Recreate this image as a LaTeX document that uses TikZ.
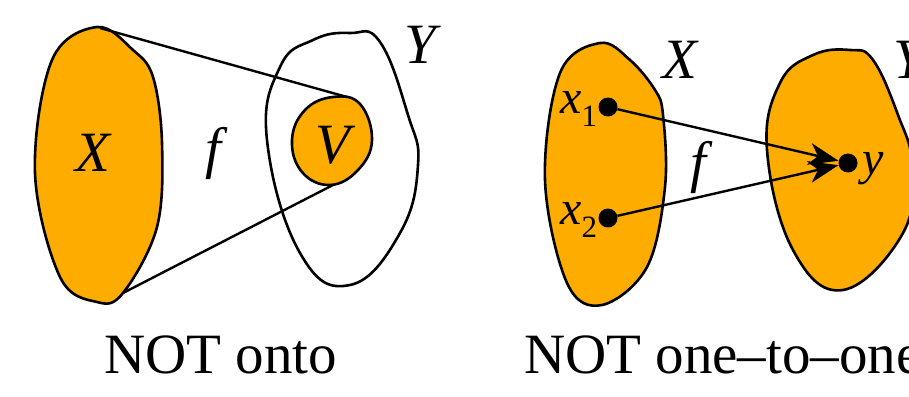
\documentclass[tikz,border=0pt]{standalone}
\usepackage{fontspec}
\setmainfont{Liberation Serif}
\usepackage{xcolor}
\usetikzlibrary{arrows.meta, positioning}

\definecolor{setorange}{RGB}{255,172,0}

\begin{document}
\begin{tikzpicture}[x=1pt, y=-1pt]
    % Styles
    \tikzstyle{blob} = [draw, line width=2.6pt, fill=setorange]
    \tikzstyle{hollow} = [draw, line width=2.6pt]
    \tikzstyle{lbl} = [inner sep=0pt, font=\fontsize{57}{60}\selectfont\itshape]
    \tikzstyle{small} = [inner sep=0pt, font=\fontsize{48}{50}\selectfont\itshape]
    \tikzstyle{caption} = [inner sep=0pt, font=\fontsize{57}{60}\selectfont]
    \tikzstyle{dot} = [circle, fill=black, inner sep=0pt, minimum size=19pt]
    \tikzstyle{line} = [draw, line width=2.4pt]
    \tikzstyle{arrow} = [draw, line width=2.4pt, -{Stealth[length=30pt, width=22pt, inset=9pt]}]

    \useasboundingbox (0,0) rectangle (909,396);
    \clip (0,0) rectangle (909,396);

    % NOT onto
    \draw[blob] plot[smooth cycle, tension=0.6] coordinates
        {(97,27) (133,50) (153,77) (162,143) (157,227) (123,293) (97,302) (60,277) (35,173) (52,60)};
    \draw[hollow] plot[smooth cycle, tension=0.75] coordinates
        {(350,33) (380,42) (408,115) (418,165) (400,233) (350,285) (300,253) (267,140) (280,67) (313,40)};
    \draw[blob] plot[smooth cycle, tension=0.7] coordinates
        {(333,97) (360,104) (372,140) (358,170) (330,185) (302,172) (292,140) (305,110)};

    \coordinate (xtop) at (100,28);
    \coordinate (xbot) at (123,293);
    \coordinate (vtop) at (347,97);
    \coordinate (vbot) at (333,185);
    \path [line] (xtop) -- (vtop);
    \path [line] (xbot) -- (vbot);

    \node [lbl] (setX) at (93,153) {X};
    \node [lbl] (mapf) at (213,153) {f};
    \node [lbl] (setV) at (333,145) {V};
    \node [lbl] (setY) at (420,45) {Y};
    \node [caption, anchor=base west] (onto) at (104,373) {NOT onto};

    % NOT one-to-one
    \draw[blob] plot[smooth cycle, tension=0.6] coordinates
        {(600,43) (630,60) (655,90) (663,115) (665,187) (647,267) (602,305) (567,283) (545,180) (560,73)};
    \draw[blob] plot[smooth cycle, tension=0.7] coordinates
        {(850,50) (873,60) (898,115) (912,165) (903,233) (843,290) (793,250) (767,150) (780,83) (813,55)};

    \node [dot] (x1) at (608,107) {};
    \node [dot] (x2) at (608,218) {};
    \node [dot] (y) at (848,163) {};
    \path [arrow] (x1) -- (y);
    \path [arrow] (x2) -- (y);

    \node [small, left=1pt of x1, yshift=-2pt] (labx1) {x\raisebox{-0.28em}{\fontsize{31}{31}\selectfont\upshape 1}};
    \node [small, left=1pt of x2, yshift=-2pt] (labx2) {x\raisebox{-0.28em}{\fontsize{31}{31}\selectfont\upshape 2}};
    \node [small, right=5pt of y, yshift=-6pt] (laby) {y};
    \node [lbl] (setX2) at (680,60) {X};
    \node [lbl] (mapf2) at (698,167) {f};
    \node [lbl, anchor=west] (setY2) at (893,60) {Y};
    \node [caption, anchor=base west] (noninj) at (524,373) {NOT one–to–one};
\end{tikzpicture}
\end{document}
